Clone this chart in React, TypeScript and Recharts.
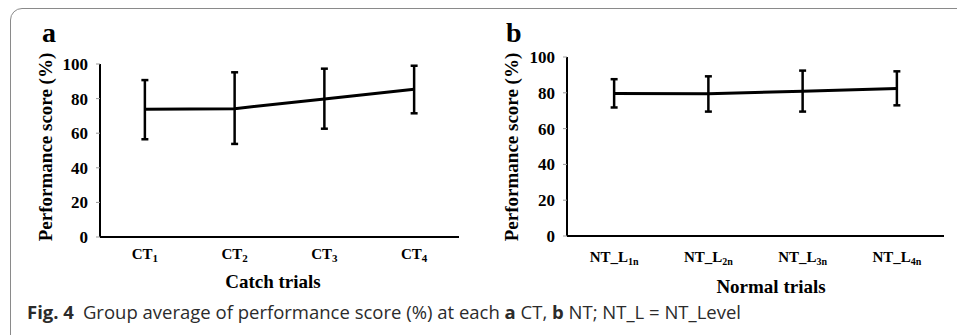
import React from 'react';
import { LineChart, Line, XAxis, YAxis, ErrorBar } from 'recharts';

// panel a: catch trials
const catchBase = ['CT', 'CT', 'CT', 'CT'];
const catchSub = ['1', '2', '3', '4'];
const catchMean = [73.8, 74.2, 79.8, 85.4];
const catchUpper = [90.7, 95.2, 97.3, 99.0];
const catchLower = [56.5, 53.8, 62.6, 71.5];

// panel b: normal trials
const normalBase = ['NT_L', 'NT_L', 'NT_L', 'NT_L'];
const normalSub = ['1n', '2n', '3n', '4n'];
const normalMean = [79.6, 79.4, 80.9, 82.4];
const normalUpper = [87.6, 89.2, 92.4, 92.0];
const normalLower = [71.8, 69.5, 69.5, 73.0];

const yTicks = [0, 20, 40, 60, 80, 100];
const bandEdges = [0, 1, 2, 3, 4];
const bandMids = [0.5, 1.5, 2.5, 3.5];

const SERIF = '"Liberation Serif", "Times New Roman", serif';
const SANS = '"Open Sans", "Noto Sans", sans-serif';

const build = (base: string[], sub: string[], mean: number[], upper: number[], lower: number[]) =>
  mean.map((m, i) => ({
    x: bandMids[i],
    base: base[i],
    sub: sub[i],
    mean: m,
    err: [m - lower[i], upper[i] - m],
  }));

const catchData = build(catchBase, catchSub, catchMean, catchUpper, catchLower);
const normalData = build(normalBase, normalSub, normalMean, normalUpper, normalLower);

const makeTick = (data: any[], gap: number, subSize: number) => (props: any) => {
  const { x, y, payload } = props;
  const row = data.find((d) => d.x === payload.value);
  if (!row) return <g />;
  return (
    <text x={x} y={y + gap} textAnchor="middle" fontFamily={SERIF} fontWeight="bold" fontSize={15} fill="#000">
      {row.base}
      <tspan fontSize={subSize} dy={3}>{row.sub}</tspan>
    </text>
  );
};

interface PanelProps {
  data: any[];
  width: number;
  height: number;
  margin: { top: number; right: number; bottom: number; left: number };
  yWidth: number;
  gap: number;
  subSize: number;
}

const Panel: React.FC<PanelProps> = ({ data, width, height, margin, yWidth, gap, subSize }) => (
  <LineChart width={width} height={height} data={data} margin={margin}>
    <XAxis
      xAxisId="edges"
      type="number"
      dataKey="x"
      domain={[0, 4]}
      ticks={bandEdges}
      tick={false}
      tickSize={5}
      axisLine={false}
      tickLine={{ stroke: '#999', strokeWidth: 1 }}
      height={0}
    />
    <XAxis
      xAxisId="cats"
      type="number"
      dataKey="x"
      domain={[0, 4]}
      ticks={bandMids}
      tickLine={false}
      tickSize={0}
      tickMargin={0}
      axisLine={{ stroke: '#000', strokeWidth: 2 }}
      tick={makeTick(data, gap, subSize)}
      height={40}
    />
    <YAxis
      type="number"
      domain={[0, 100]}
      ticks={yTicks}
      width={yWidth}
      tickSize={4}
      tickMargin={8}
      axisLine={{ stroke: '#000', strokeWidth: 2 }}
      tickLine={{ stroke: '#999', strokeWidth: 1 }}
      tick={{ fill: '#000', fontSize: 17, fontWeight: 'bold', fontFamily: SERIF }}
    />
    <Line
      xAxisId="cats"
      type="linear"
      dataKey="mean"
      stroke="#000"
      strokeWidth={3}
      dot={false}
      isAnimationActive={false}
    >
      <ErrorBar dataKey="err" direction="y" width={3.5} stroke="#000" strokeWidth={2.5} isAnimationActive={false} />
    </Line>
  </LineChart>
);

const App: React.FC = () => (
  <div style={{ position: 'absolute', left: 0, top: 0, width: 957, height: 335, overflow: 'hidden', background: '#fff' }}>
    <div
      style={{
        position: 'absolute',
        left: 10,
        top: 8,
        width: 1000,
        height: 400,
        border: '1px solid #8a8a8a',
        borderRadius: 12,
      }}
    />
    <div style={{ position: 'absolute', left: 0, top: 0 }}>
      <Panel
        data={catchData}
        width={480}
        height={300}
        margin={{ top: 64, right: 21, bottom: 23, left: 0 }}
        yWidth={100}
        gap={22}
        subSize={11}
      />
    </div>
    <div style={{ position: 'absolute', left: 480, top: 0 }}>
      <Panel
        data={normalData}
        width={477}
        height={300}
        margin={{ top: 57, right: 13, bottom: 24, left: 0 }}
        yWidth={87}
        gap={26}
        subSize={10}
      />
    </div>
    <svg width={957} height={335} style={{ position: 'absolute', left: 0, top: 0, pointerEvents: 'none' }}>
      <text x={42} y={42} fontFamily={SERIF} fontWeight="bold" fontSize={28} fill="#000">a</text>
      <text x={506} y={42} fontFamily={SERIF} fontWeight="bold" fontSize={28} fill="#000">b</text>
      <text
        transform="translate(45,147) rotate(-90)"
        textAnchor="middle"
        dominantBaseline="central"
        fontFamily={SERIF}
        fontWeight="bold"
        fontSize={19}
        fill="#000"
      >
        Performance score (%)
      </text>
      <text
        transform="translate(511,147) rotate(-90)"
        textAnchor="middle"
        dominantBaseline="central"
        fontFamily={SERIF}
        fontWeight="bold"
        fontSize={19}
        fill="#000"
      >
        Performance score (%)
      </text>
      <text x={273} y={288} textAnchor="middle" fontFamily={SERIF} fontWeight="bold" fontSize={19} fill="#000">
        Catch trials
      </text>
      <text x={771} y={293} textAnchor="middle" fontFamily={SERIF} fontWeight="bold" fontSize={19} fill="#000">
        Normal trials
      </text>
      <text x={27} y={319} fontFamily={SANS} fontSize={18.5} fill="#2b2b2b">
        <tspan fontWeight="bold">Fig. 4</tspan>
        <tspan dx={9}>Group average of performance score (%) at each </tspan>
        <tspan fontWeight="bold">a</tspan>
        <tspan> CT, </tspan>
        <tspan fontWeight="bold">b</tspan>
        <tspan> NT; NT_L = NT_Level</tspan>
      </text>
    </svg>
  </div>
);

export default App;
